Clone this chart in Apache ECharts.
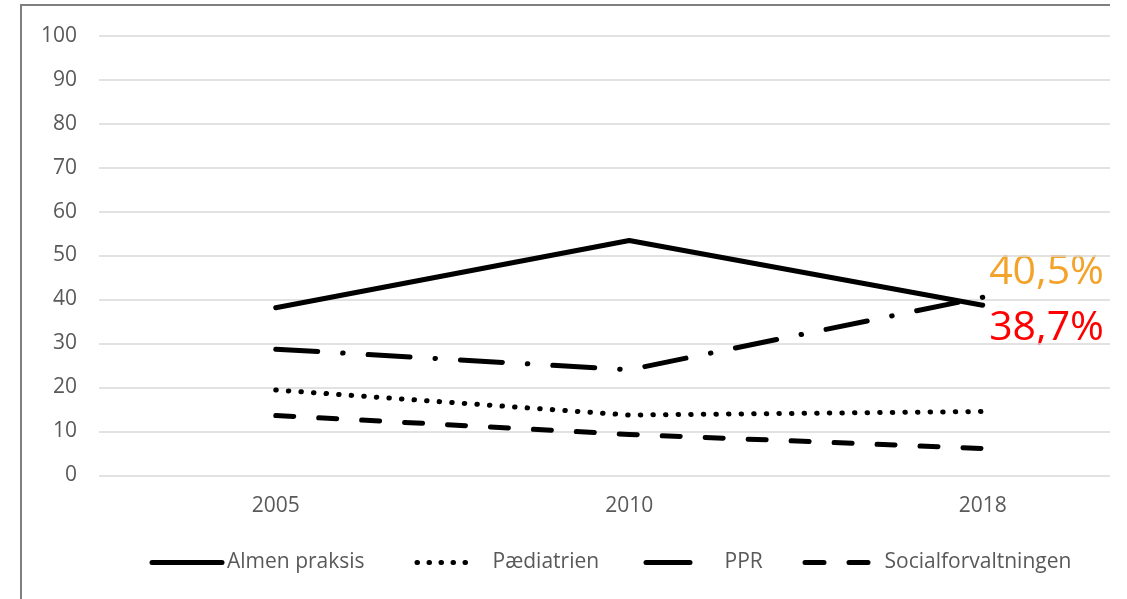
<!DOCTYPE html>
<html>
<head>
<meta charset="utf-8">
<script src="https://cdn.jsdelivr.net/npm/echarts@6/dist/echarts.min.js"></script>
<style>
html,body{margin:0;padding:0;background:#fff;}
#chart{width:1127px;height:599px;}
</style>
</head>
<body>
<div id="chart"></div>
<script>
const categories = ['2005', '2010', '2018'];
const almenPraksis = [38.1, 53.4, 38.7];
const paediatrien = [19.4, 13.7, 14.5];
const ppr = [28.7, 24.0, 40.5];
const socialforvaltningen = [13.6, 9.3, 6.1];
const seriesNames = ['Almen praksis', 'Pædiatrien', 'PPR', 'Socialforvaltningen'];
const yMin = 0, yMax = 100, yStep = 10;

const FONT = '"Open Sans", Lato, sans-serif';
const toPoints = arr => categories.map((c, i) => [i, arr[i]]);
const fmt = v => v.toFixed(1).replace('.', ',') + '%';

const lineTypes = ['solid', [0.5, 12.1], [42, 25, 0.5, 25], [18, 25]];
const legendTypes = ['solid', [0.5, 11.5], 'solid', [19, 25]];
const values = [almenPraksis, paediatrien, ppr, socialforvaltningen];

const series = seriesNames.map((name, k) => ({
  name: name,
  type: 'line',
  data: toPoints(values[k]),
  symbol: 'none',
  silent: true,
  itemStyle: { color: '#000' },
  lineStyle: { color: '#000', width: 5, type: lineTypes[k], cap: 'round', join: 'round' }
}));

const legendLayout = [
  { left: 149.5, w: 70, pad: 0 },
  { left: 414.5, w: 60, pad: 10.5 },
  { left: 643.5, w: 44, pad: 29.5 },
  { left: 802.5, w: 64, pad: 10.5 }
];
const legends = seriesNames.map((name, k) => ({
  data: [name],
  left: legendLayout[k].left,
  top: 552,
  padding: 0,
  itemWidth: legendLayout[k].w,
  itemHeight: 22,
  selectedMode: false,
  itemStyle: { opacity: 0 },
  lineStyle: { color: '#000', width: 5, type: legendTypes[k], cap: 'round' },
  textStyle: { color: '#595959', fontSize: 21, fontFamily: FONT, padding: [0, 0, 0, legendLayout[k].pad] }
}));

const chart = echarts.init(document.getElementById('chart'));
chart.setOption({
  animation: false,
  backgroundColor: '#fff',
  grid: { left: 99, right: 17, top: 35.7, bottom: 123.7, containLabel: false },
  xAxis: {
    type: 'value', min: -0.5, max: 2.36,
    axisLine: { show: false }, axisTick: { show: false }, splitLine: { show: false },
    axisLabel: {
      customValues: [0, 1, 2],
      formatter: v => categories[Math.round(v)],
      color: '#595959', fontSize: 21, fontFamily: FONT, margin: 20
    }
  },
  yAxis: {
    type: 'value', min: yMin, max: yMax, interval: yStep,
    axisLine: { show: false }, axisTick: { show: false },
    splitLine: { lineStyle: { color: '#d9d9d9', width: 1.5 } },
    axisLabel: { color: '#595959', fontSize: 21, fontFamily: FONT, margin: 22 }
  },
  legend: legends,
  series: series,
  graphic: [
    { type: 'line', shape: { x1: 21, y1: 4, x2: 21, y2: 599 }, style: { stroke: '#7f7f7f', lineWidth: 2 } },
    { type: 'line', shape: { x1: 20, y1: 5, x2: 1110, y2: 5 }, style: { stroke: '#7f7f7f', lineWidth: 2 } },
    { type: 'text', right: 23, top: 252, style: { text: fmt(ppr[2]), fill: '#F4A32A', font: '41px ' + FONT } },
    { type: 'text', right: 23, top: 308, style: { text: fmt(almenPraksis[2]), fill: '#FF0000', font: '41px ' + FONT } }
  ]
});
</script>
</body>
</html>
